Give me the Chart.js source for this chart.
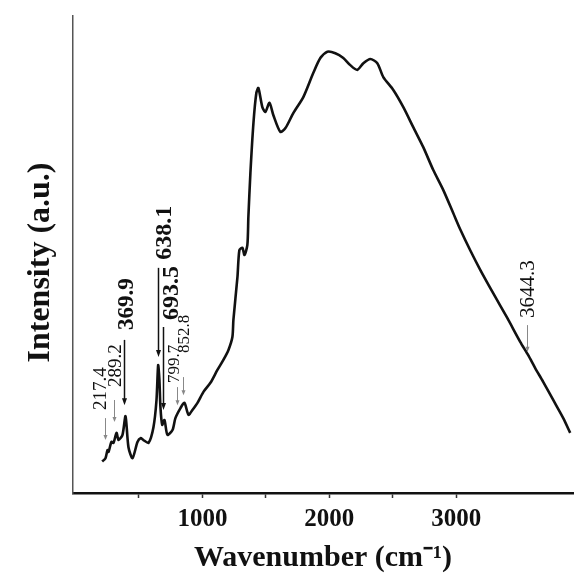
<!DOCTYPE html>
<html>
<head>
<meta charset="utf-8">
<script src="https://cdn.jsdelivr.net/npm/chart.js@4/dist/chart.umd.min.js"></script>
<style>
  html, body { margin: 0; padding: 0; background: #fff; }
  #chart { display: block; }
</style>
</head>
<body>
<canvas id="chart" width="585" height="576"></canvas>
<script>
// spectrum
const wavenumber = [210, 236, 252, 260, 283, 299, 323, 339, 370, 394, 417, 449, 488, 512, 535, 575,
  614, 638, 651, 661, 669, 683, 701, 724, 764, 787, 827, 858, 890, 921, 961, 1008, 1063, 1118, 1165,
  1205, 1236, 1244, 1276, 1291, 1315, 1331, 1354, 1362, 1378, 1402, 1425, 1441, 1472, 1496, 1528,
  1559, 1614, 1654, 1717, 1795, 1874, 1929, 1984, 2047, 2110, 2165, 2220, 2268, 2323, 2378, 2425,
  2504, 2583, 2661, 2740, 2819, 2898, 2976, 3031, 3110, 3189, 3291, 3402, 3504, 3567, 3622, 3685,
  3764, 3843, 3898];
const intensity = [6.6, 7.3, 9.0, 8.6, 10.7, 10.5, 12.6, 11.1, 12.2, 16.1, 9.6, 7.3, 10.7, 11.5, 11.1, 10.5,
  13.8, 19.5, 26.8, 23.7, 18.0, 14.3, 15.3, 12.2, 13.2, 15.7, 17.8, 18.9, 16.4, 17.4, 18.9, 21.2, 23.1, 25.8, 27.9,
  30.0, 32.7, 36.3, 45.3, 50.9, 51.4, 49.9, 52.0, 57.9, 67.1, 77.6, 83.9, 84.9, 80.9, 79.9, 81.8,
  79.2, 75.7, 76.5, 79.7, 83.0, 88.1, 91.2, 92.5, 92.2, 91.2, 89.7, 88.7, 90.1, 91.0, 90.1, 87.2,
  84.5, 80.9, 76.7, 72.5, 67.7, 63.5, 58.7, 55.3, 50.9, 46.8, 41.9, 36.7, 31.7, 28.9, 26.2, 23.3,
  19.5, 15.7, 12.6];

const xTickValues = [500, 1000, 1500, 2000, 2500, 3000];

// peak labels and their arrows (arrow x in cm-1, arrow top / tip in a.u.)
const peakLabels = ['217.4', '289.2', '369.9', '638.1', '693.5', '799.7', '852.8', '3644.3'];
const arrowPos = [236, 307, 378, 646, 693, 803, 850, 3559];
const arrowTop = [15.7, 19.5, 32.1, 47.2, 34.8, 22.2, 24.3, 35.2];
const arrowTip = [11.1, 14.9, 18.4, 28.5, 17.4, 18.4, 20.5, 29.6];

// how each label looks
const peakStyle = [
  { dx: -4, gap: 8, size: 19, bold: false, color: '#888' },
  { dx: 2, gap: 13, size: 19, bold: false, color: '#888' },
  { dx: 3, gap: 10, size: 23, bold: true, color: '#111' },
  { dx: 6, gap: 8, size: 24, bold: true, color: '#111' },
  { dx: 8, gap: 7, size: 24, bold: true, color: '#111' },
  { dx: -3, gap: 4, size: 17, bold: false, color: '#888' },
  { dx: 1, gap: 24, size: 17, bold: false, color: '#888' },
  { dx: 1, gap: 7, size: 21, bold: false, color: '#888' }
];

const serif = "'Liberation Serif', 'Times New Roman', serif";

const peakPlugin = {
  id: 'peaks',
  afterDatasetsDraw(chart) {
    const { ctx, scales: { x, y } } = chart;
    ctx.save();
    peakLabels.forEach((txt, i) => {
      const st = peakStyle[i];
      const px = Math.round(x.getPixelForValue(arrowPos[i])) + 0.5;
      const top = y.getPixelForValue(arrowTop[i]);
      const tip = y.getPixelForValue(arrowTip[i]);
      const head = st.bold ? 7 : 5;
      const half = st.bold ? 2.5 : 2;

      // shaft
      ctx.strokeStyle = st.color;
      ctx.lineWidth = st.bold ? 1.5 : 1;
      ctx.beginPath();
      ctx.moveTo(px, top);
      ctx.lineTo(px, tip - head + 1);
      ctx.stroke();
      // head
      ctx.fillStyle = st.color;
      ctx.beginPath();
      ctx.moveTo(px - half, tip - head);
      ctx.lineTo(px + half, tip - head);
      ctx.lineTo(px, tip);
      ctx.closePath();
      ctx.fill();

      // label, reading upwards
      ctx.save();
      ctx.translate(px + st.dx, top - st.gap);
      ctx.rotate(-Math.PI / 2);
      ctx.fillStyle = '#111';
      ctx.font = (st.bold ? 'bold ' : '') + st.size + 'px ' + serif;
      ctx.textAlign = 'left';
      ctx.textBaseline = 'middle';
      ctx.fillText(txt, 0, 0);
      ctx.restore();
    });
    ctx.restore();
  }
};

new Chart(document.getElementById('chart'), {
  type: 'line',
  data: {
    datasets: [{
      data: wavenumber.map((w, i) => ({ x: w, y: intensity[i] })),
      borderColor: '#111',
      borderWidth: 2.6,
      pointRadius: 0,
      tension: 0.25,
      fill: false
    }]
  },
  options: {
    responsive: false,
    animation: false,
    devicePixelRatio: 1,
    layout: { padding: { top: 16, right: 12, left: 0, bottom: 0 } },
    plugins: {
      legend: { display: false },
      tooltip: { enabled: false }
    },
    scales: {
      x: {
        type: 'linear',
        position: 'bottom',
        min: -20,
        max: 3920,
        afterBuildTicks: s => { s.ticks = xTickValues.map(v => ({ value: v })); },
        afterFit: s => { s.height = 83; },
        border: { color: '#111', width: 2.5 },
        grid: { drawOnChartArea: false, tickLength: 5, tickColor: '#333', tickWidth: 1.5 },
        ticks: {
          color: '#111',
          maxRotation: 0,
          autoSkip: false,
          padding: 7,
          font: { family: serif, size: 25, weight: 'bold' },
          callback: v => (v % 1000 === 0 ? String(v) : '')
        },
        title: {
          display: true,
          text: 'Wavenumber (cm\u207B\u00B9)',
          color: '#111',
          font: { family: serif, size: 30, weight: 'bold' },
          padding: { top: 0, bottom: 0 }
        }
      },
      y: {
        min: 0,
        max: 100,
        afterFit: s => { s.width = 73; },
        border: { color: '#555', width: 1.5 },
        grid: { display: false },
        ticks: { display: false },
        title: {
          display: true,
          text: 'Intensity (a.u.)\u00A0\u00A0',
          color: '#111',
          font: { family: serif, size: 32, weight: 'bold' },
          padding: { top: 22, bottom: 0 }
        }
      }
    }
  },
  plugins: [peakPlugin]
});
</script>
</body>
</html>
